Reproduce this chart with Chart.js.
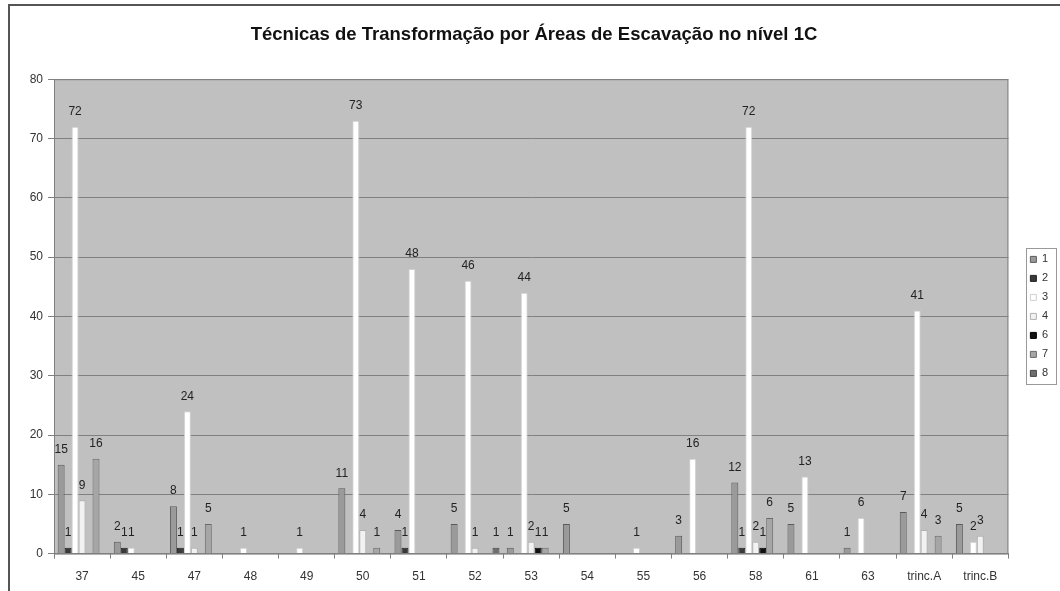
<!DOCTYPE html>
<html>
<head>
<meta charset="utf-8">
<script src="https://cdn.jsdelivr.net/npm/chart.js@4.4.1/dist/chart.umd.min.js"></script>
<style>
  html, body { margin: 0; padding: 0; background: #fff; }
  canvas { display: block; }
</style>
</head>
<body>
<canvas id="chart" width="1060" height="591"></canvas>
<script>
// Áreas de escavação (eixo x)
const areas = ["37", "45", "47", "48", "49", "50", "51", "52", "53", "54", "55", "56", "58", "61", "63", "trinc.A", "trinc.B"]

// valores por técnica (null = sem barra)
const tecnica1 = [15, 2, 8, null, null, 11, 4, 5, 1, 5, null, 3, 12, 5, 1, 7, 5]
const tecnica2 = [1, 1, 1, null, null, null, 1, null, null, null, null, null, 1, null, null, null, null]
const tecnica3 = [72, 1, 24, 1, 1, 73, 48, 46, 44, null, 1, 16, 72, 13, 6, 41, 2]
const tecnica4 = [9, null, 1, null, null, 4, null, 1, 2, null, null, null, 2, null, null, 4, 3]
const tecnica6 = [null, null, null, null, null, null, null, null, 1, null, null, null, 1, null, null, null, null]
const tecnica7 = [16, null, 5, null, null, 1, null, null, 1, null, null, null, 6, null, null, 3, null]
const tecnica8 = [null, null, null, null, null, null, null, 1, null, null, null, null, null, null, null, null, null]

const yTicks = [0, 10, 20, 30, 40, 50, 60, 70, 80]

Chart.defaults.font.family = "'Liberation Sans', Arial, sans-serif"
Chart.defaults.color = "#333"

const serie = (label, data, fill, border) => ({
  label,
  data,
  backgroundColor: fill,
  borderColor: border,
  borderWidth: 1,
  categoryPercentage: 0.87,
  barPercentage: 1.0
})

// fundo cinzento da área de desenho + moldura exterior
const plotFrame = {
  id: "plotFrame",
  beforeDraw (chart) {
    const { ctx, chartArea: a, width, height } = chart
    ctx.save()
    ctx.fillStyle = "#fff"
    ctx.fillRect(0, 0, width, height)
    ctx.strokeStyle = "#555"
    ctx.lineWidth = 2
    ctx.beginPath()
    ctx.moveTo(9, height)
    ctx.lineTo(9, 5)
    ctx.lineTo(width, 5)
    ctx.stroke()
    ctx.fillStyle = "#c0c0c0"
    ctx.fillRect(a.left, a.top, a.width, a.height)
    ctx.restore()
  },
  afterDraw (chart) {
    const { ctx, chartArea: a, legend } = chart
    ctx.save()
    ctx.strokeStyle = "#808080"
    ctx.lineWidth = 1
    ctx.strokeRect(a.left + 0.5, a.top + 0.5, a.width - 1, a.height)
    const boxes = legend.legendHitBoxes
    if (boxes && boxes.length) {
      const first = boxes[0]
      const last = boxes[boxes.length - 1]
      const x0 = Math.round(first.left) - 3.5
      const y0 = Math.round(first.top) - 5.5
      const y1 = Math.round(last.top + last.height) + 5.5
      ctx.strokeStyle = "#999"
      ctx.strokeRect(x0, y0, 30, y1 - y0)
    }
    ctx.restore()
  }
}

// rótulos de valor por cima das barras
const valueLabels = {
  id: "valueLabels",
  afterDatasetsDraw (chart) {
    const { ctx } = chart
    ctx.save()
    ctx.font = "12px 'Liberation Sans', Arial, sans-serif"
    ctx.fillStyle = "#222"
    ctx.textAlign = "center"
    ctx.textBaseline = "middle"
    chart.data.datasets.forEach((ds, i) => {
      const meta = chart.getDatasetMeta(i)
      if (meta.hidden) return
      meta.data.forEach((bar, j) => {
        const v = ds.data[j]
        if (v == null) return
        ctx.fillText(String(v), bar.x, bar.y - 15)
      })
    })
    ctx.restore()
  }
}

new Chart(document.getElementById("chart").getContext("2d"), {
  type: "bar",
  data: {
    labels: areas,
    datasets: [
      serie("1", tecnica1, "#9a9a9a", "#5a5a5a"),
      serie("2", tecnica2, "#3a3a3a", "#222"),
      serie("3", tecnica3, "#ffffff", "#d0d0d0"),
      serie("4", tecnica4, "#f2f2f2", "#b0b0b0"),
      serie("6", tecnica6, "#111111", "#000"),
      serie("7", tecnica7, "#a6a6a6", "#6a6a6a"),
      serie("8", tecnica8, "#6e6e6e", "#444")
    ]
  },
  options: {
    responsive: false,
    animation: false,
    layout: { padding: { left: 10, right: 2, top: 24, bottom: -4 } },
    plugins: {
      title: {
        display: true,
        text: "Técnicas de Transformação por Áreas de Escavação no nível 1C",
        color: "#111",
        font: { size: 18.5, weight: "bold" },
        padding: { top: 0, bottom: 33 }
      },
      legend: {
        position: "right",
        fullSize: false,
        labels: {
          boxWidth: 6,
          boxHeight: 6,
          padding: 8,
          color: "#333",
          font: { size: 11 }
        }
      },
      tooltip: { enabled: false }
    },
    scales: {
      x: {
        grid: { display: true, drawOnChartArea: false, offset: true, color: "#808080", tickLength: 5 },
        border: { display: true, color: "#808080" },
        ticks: { padding: 11, font: { size: 12 }, color: "#333" }
      },
      y: {
        min: 0,
        max: 80,
        afterBuildTicks: s => { s.ticks = yTicks.map(value => ({ value })) },
        afterFit: s => { s.width = 44 },
        grid: { color: "#808080", tickLength: 6 },
        border: { display: true, color: "#808080" },
        ticks: { padding: 5, font: { size: 12 }, color: "#333" }
      },
      spacer: {
        type: "linear",
        position: "right",
        display: true,
        grid: { display: false, drawTicks: false },
        border: { display: false },
        ticks: { display: false },
        afterFit: s => { s.width = 14 }
      }
    }
  },
  plugins: [plotFrame, valueLabels]
})
</script>
</body>
</html>
